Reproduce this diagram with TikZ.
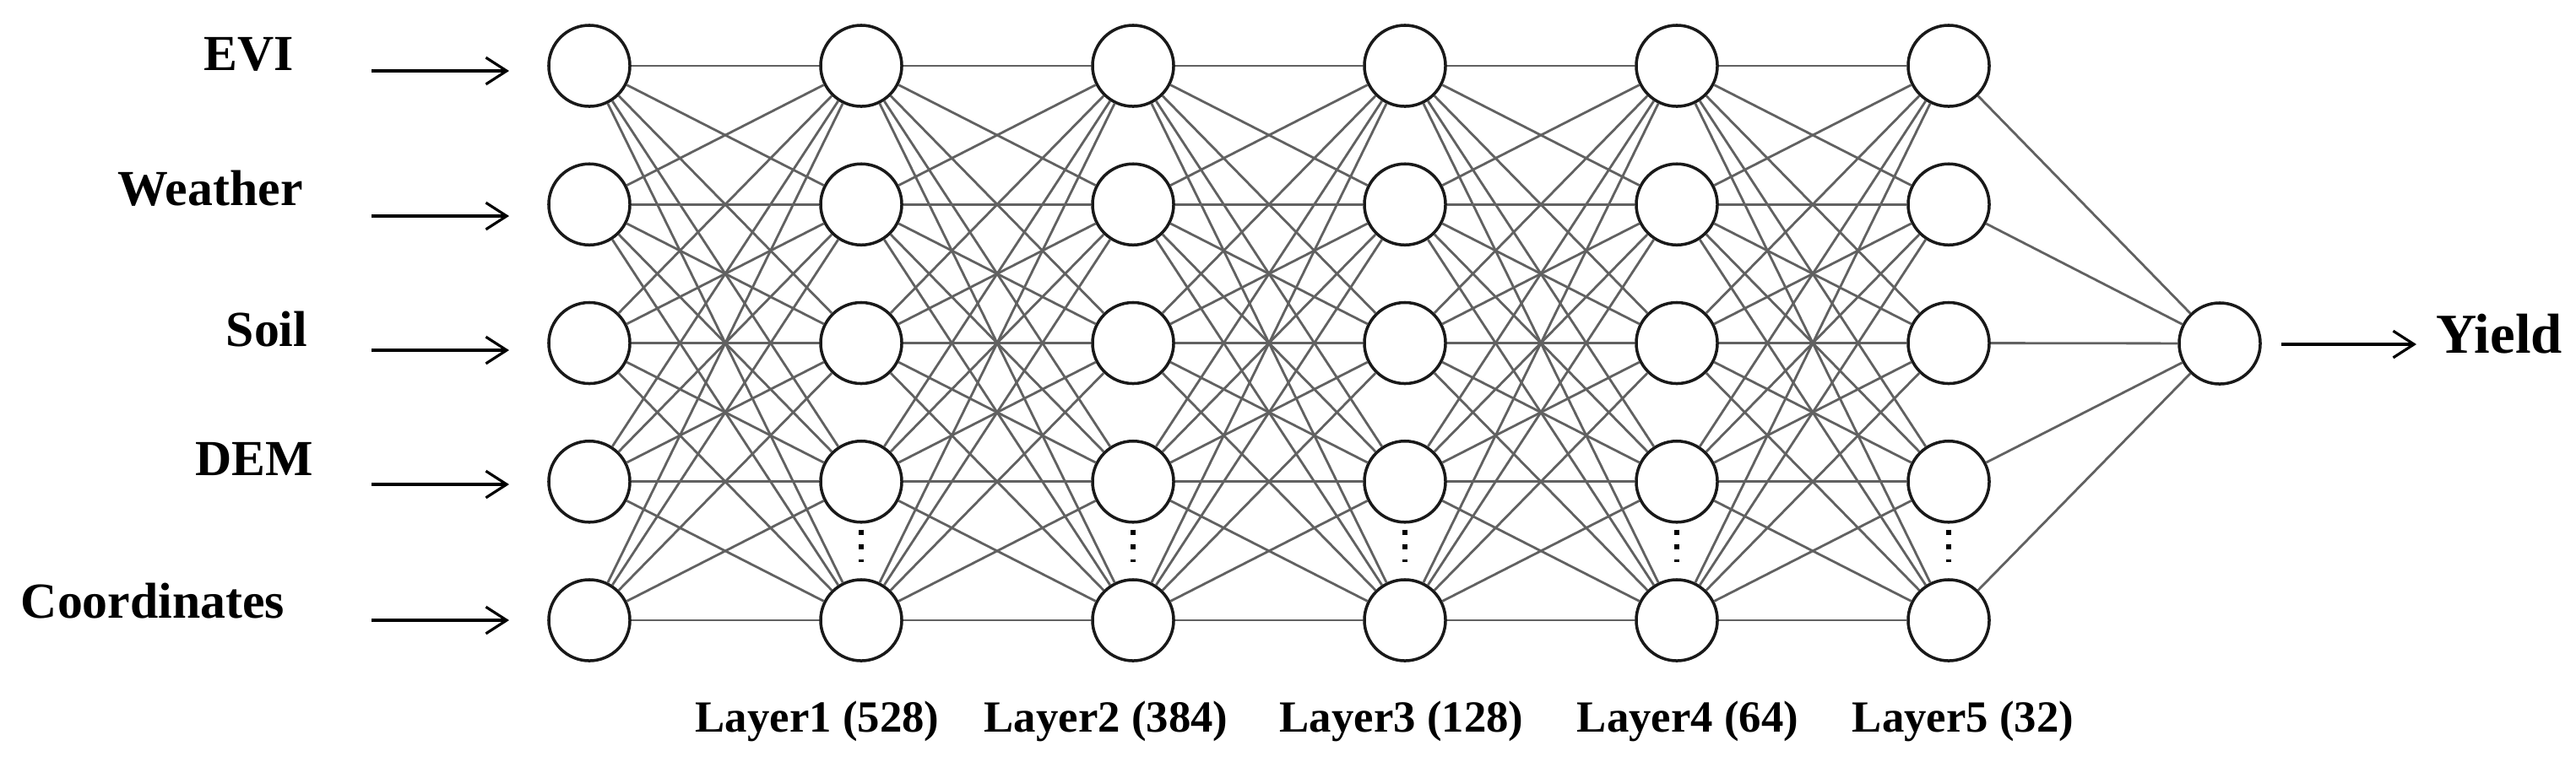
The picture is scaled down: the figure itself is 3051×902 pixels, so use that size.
\documentclass[tikz,border=0pt]{standalone}
\usepackage{fontspec}
\setmainfont{Liberation Serif}
\usetikzlibrary{arrows.meta}
\begin{document}
\begin{tikzpicture}[x=0.01cm, y=-0.01cm,
  neuron/.style={draw=black!90, circle, line width=1pt, minimum size=0.96cm, inner sep=0pt, fill=white},
  link/.style={draw=black!62, line width=0.8pt},
  feed/.style={-{Straight Barb[length=7pt,width=9pt]}, line width=0.9pt},
  gap/.style={line width=1.7pt, dash pattern=on 1.7pt off 3.3pt},
  inlabel/.style={font=\bfseries\fontsize{17}{20}\selectfont, anchor=base},
  layerlabel/.style={font=\bfseries\fontsize{15}{18}\selectfont, anchor=base}]

\useasboundingbox (0,0) rectangle (3051,902);

% neurons
\foreach \l in {0,...,5}
  \foreach \r in {1,...,5}
    \node[neuron] (n\l\r) at (698+322*\l, 78+164.25*\r-164.25) {};
\node[neuron] (out) at (2629,407) {};

% weights
\foreach \l [evaluate=\l as \m using int(\l+1)] in {0,...,4}
  \foreach \r in {1,...,5}
    \foreach \s in {1,...,5}
      \draw[link] (n\l\r) -- (n\m\s);
\foreach \r in {1,...,5}
  \draw[link] (n5\r) -- (out);

% hidden units left out
\foreach \l in {1,...,5}
  \draw[gap] ([yshift=-0.07cm]n\l4.south) -- ([yshift=0.19cm]n\l5.north);

% inputs
\node[inlabel] (evi) at (295,83) {EVI};
\node[inlabel] (weather) at (249,243) {Weather};
\node[inlabel] (soil) at (316,410) {Soil};
\node[inlabel] (dem) at (301,563) {DEM};
\node[inlabel] (coords) at (181,732) {Coordinates};

\foreach \r/\y in {1/84, 2/256, 3/415, 4/574, 5/735} {
  \coordinate (in\r) at (440,\y);
  \coordinate (tip\r) at (603,\y);
  \draw[feed] (in\r) -- (tip\r);
}

% output
\coordinate (yfrom) at (2702,408);
\coordinate (yto) at (2862,408);
\draw[feed] (yfrom) -- (yto);
\node[font=\bfseries\fontsize{19}{22}\selectfont, anchor=base] (yield) at (2960,418) {Yield};

% layer sizes
\node[layerlabel] (lay1) at (968,867) {Layer1 (528)};
\node[layerlabel] (lay2) at (1310,867) {Layer2 (384)};
\node[layerlabel] (lay3) at (1660,867) {Layer3 (128)};
\node[layerlabel] (lay4) at (1999,867) {Layer4 (64)};
\node[layerlabel] (lay5) at (2325,867) {Layer5 (32)};
\end{tikzpicture}
\end{document}
